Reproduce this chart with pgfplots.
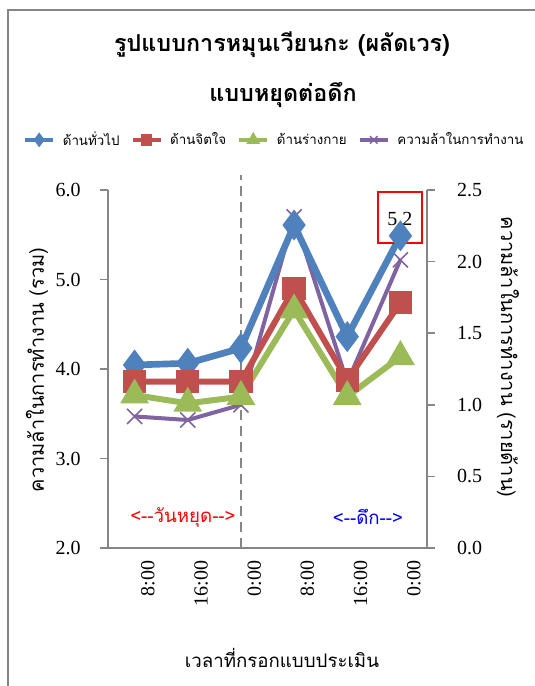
\documentclass[border=0pt]{standalone}
\usepackage{pgfplots}
\pgfplotsset{compat=1.18}
\usepackage{fontspec}
\setmainfont{Liberation Serif}
\newfontfamily\thai[Script=Thai]{Loma}
\definecolor{cblue}{HTML}{4F81BD}
\definecolor{cred}{HTML}{C0504D}
\definecolor{cgreen}{HTML}{9BBB59}
\definecolor{cpurple}{HTML}{8064A2}
\definecolor{axgray}{HTML}{868686}
\pgfplotsset{
  common/.style={
    at={(81pt,103.5pt)}, anchor=south west,
    scale only axis, width=239.25pt, height=268.5pt,
    xmin=-0.5, xmax=5.5,
    /pgf/number format/assume math mode=true,
    axis line style={-, axgray, line width=1.5pt},
    tick style={axgray, line width=1.2pt},
    tick align=outside, major tick length=6pt,
    clip=false,
  }
}
\begin{document}
\begin{tikzpicture}
\useasboundingbox (0pt,0pt) rectangle (401.25pt,514.5pt);
\draw[axgray, line width=1.5pt] (6pt,0pt) -- (6pt,507pt) -- (401.25pt,507pt);
% titles
\node[font=\thai\bfseries\fontsize{17.5}{20}\selectfont] at (211.5pt,480.75pt) {รูปแบบการหมุนเวียนกะ (ผลัดเวร)};
\node[font=\thai\bfseries\fontsize{17.5}{20}\selectfont] at (212.25pt,443.25pt) {แบบหยุดต่อดึก};
\node[font=\thai\fontsize{15}{17}\selectfont, rotate=90] at (27.75pt,237pt) {ความล้าในการทำงาน (รวม)};
\node[font=\thai\fontsize{15}{17}\selectfont, rotate=-90] at (381pt,246.75pt) {ความล้าในการทำงาน (รายด้าน)};
\node[font=\thai\fontsize{14}{16}\selectfont] at (211.5pt,21pt) {เวลาที่กรอกแบบประเมิน};
\begin{axis}[common,
  ymin=2, ymax=6,
  xtick={0,...,5}, xticklabels={8:00,16:00,0:00,8:00,16:00,0:00},
  xticklabel style={rotate=90, anchor=east, font=\fontsize{15}{17}\selectfont, yshift=-10pt},
  major x tick style={draw=none},
  ytick={2,3,4,5,6},
  yticklabel style={/pgf/number format/.cd, fixed, fixed zerofill, precision=1, /tikz/.cd, font=\fontsize{15}{17}\selectfont, xshift=-11pt},
  axis x line*=bottom, axis y line*=left,
  legend style={at={(0.523,1.14)}, anchor=center, draw=none, fill=none,
    legend columns=4, font=\thai\fontsize{10}{12}\selectfont,
    /tikz/every odd column/.append style={column sep=4pt},
    /tikz/every even column/.append style={column sep=6.5pt}},
  legend image code/.code={\draw[mark repeat=2,mark phase=2,#1] plot coordinates {(0pt,0pt) (10.5pt,0pt) (21pt,0pt)};},
  legend cell align=left,
]
\addlegendimage{cblue, line width=2.5pt, mark=diamond*, mark size=3.5pt}
\addlegendentry{ด้านทั่วไป}
\addlegendimage{cred, line width=2.5pt, mark=square*, mark size=3pt}
\addlegendentry{ด้านจิตใจ}
\addlegendimage{cgreen, line width=2.5pt, mark=triangle*, mark size=3.5pt}
\addlegendentry{ด้านร่างกาย}
\addlegendimage{cpurple, line width=2.5pt, mark=x, mark size=4pt, mark options={line width=1pt}}
\addlegendentry{ความล้าในการทำงาน}
\addplot[cpurple, line width=3pt, mark=x, mark size=8pt, mark options={line width=1.2pt}, forget plot]
  coordinates {(0,3.47) (1,3.43) (2,3.60) (3,5.70) (4,3.85) (5,5.22)};
\end{axis}
\begin{axis}[common,
  ymin=0, ymax=2.5,
  axis x line=none, axis y line*=right,
  ytick={0,0.5,...,2.5},
  yticklabel style={/pgf/number format/.cd, fixed, fixed zerofill, precision=1, /tikz/.cd, font=\fontsize{15}{17}\selectfont, xshift=13pt},
]
\addplot[cblue, line width=5pt, mark=diamond*, mark size=7.5pt]
  coordinates {(0,1.278) (1,1.29) (2,1.395) (3,2.255) (4,1.476) (5,2.18)};
\addplot[cred, line width=4.5pt, mark=square*, mark size=6.5pt]
  coordinates {(0,1.161) (1,1.161) (2,1.161) (3,1.813) (4,1.173) (5,1.713)};
\addplot[cgreen, line width=4.5pt, mark=triangle*, mark size=8pt]
  coordinates {(0,1.068) (1,1.01) (2,1.057) (3,1.662) (4,1.057) (5,1.336)};
\addplot[axgray, line width=2pt, dash pattern=on 7.5pt off 4.5pt]
  coordinates {(2,0) (2,2.605)};
\draw[red, line width=1pt] (axis cs:4.578,2.486) rectangle (axis cs:5.405,2.130);
\node[font=\fontsize{15}{17}\selectfont] at (axis cs:4.99,2.297) {5.2};
\node[font=\thai\fontsize{14}{16}\selectfont, text=red] at (axis cs:0.91,0.216) {<-{}-วันหยุด-{}->};
\node[font=\thai\fontsize{14}{16}\selectfont, text=blue] at (axis cs:4.39,0.216) {<-{}-ดึก-{}->};
\end{axis}
\end{tikzpicture}
\end{document}
